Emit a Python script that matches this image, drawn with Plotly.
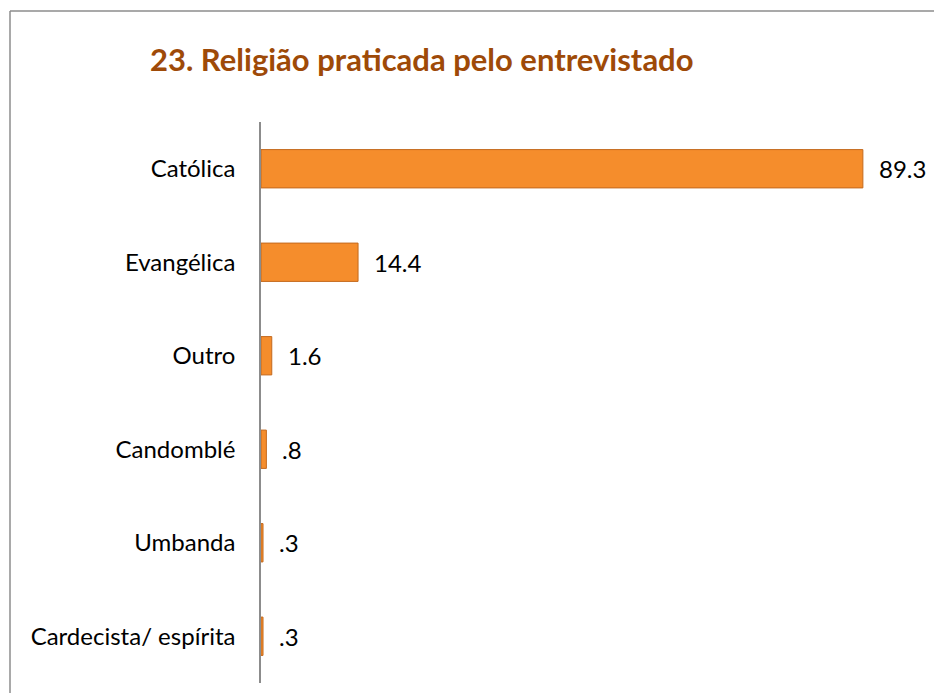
import plotly.graph_objects as go

categories = ["Católica", "Evangélica", "Outro", "Candomblé", "Umbanda", "Cardecista/ espírita"]
values = [89.3, 14.4, 1.6, 0.8, 0.3, 0.3]
value_labels = ["89.3", "14.4", "1.6", ".8", ".3", ".3"]

OFF = 8  # default page body margin
W, H = 942 - OFF, 693 - OFF
ml, mr, mt, mb = 261 - OFF, 7, 122 - OFF, 10
pw, ph = W - ml - mr, H - mt - mb

def px_x(p):
    return (p - OFF - ml) / pw

def px_y(p):
    return (H - mb - (p - OFF)) / ph

fig = go.Figure()
fig.add_trace(go.Bar(
    x=values,
    y=categories,
    orientation="h",
    marker=dict(color="#F58D2C", line=dict(color="#C46A1E", width=1)),
    width=0.41,
    hoverinfo="x+y",
))

for cat, v, lab in zip(categories, values, value_labels):
    fig.add_annotation(x=v, y=cat, text=lab, xref="x", yref="y",
                       xanchor="left", yanchor="middle", showarrow=False,
                       xshift=14, font=dict(family="Lato", size=24, color="#000000"))

fig.update_layout(
    width=W, height=H,
    margin=dict(l=ml, r=mr, t=mt, b=mb),
    paper_bgcolor="white", plot_bgcolor="white",
    showlegend=False,
    title=dict(text="<b>23. Religião praticada pelo entrevistado</b>",
               x=(150 - OFF) / W, xref="container", xanchor="left",
               y=1 - (60 - OFF) / H, yref="container", yanchor="middle",
               font=dict(family="Lato", size=31, color="#9E4A08")),
    xaxis=dict(range=[0, 100], visible=False, fixedrange=True),
    yaxis=dict(categoryorder="array", categoryarray=categories[::-1],
               showline=True, linecolor="#8C8C8C", linewidth=1.5,
               ticks="", ticklabelstandoff=19, showgrid=False, zeroline=False,
               tickfont=dict(family="Lato", size=24, color="#000000"),
               fixedrange=True),
    shapes=[
        dict(type="line", xref="paper", yref="paper",
             x0=px_x(10), x1=px_x(950), y0=px_y(11), y1=px_y(11),
             line=dict(color="#8C8C8C", width=1.5)),
        dict(type="line", xref="paper", yref="paper",
             x0=px_x(10), x1=px_x(10), y0=px_y(11), y1=px_y(700),
             line=dict(color="#8C8C8C", width=1.5)),
    ],
)

fig.write_html("out.html")
